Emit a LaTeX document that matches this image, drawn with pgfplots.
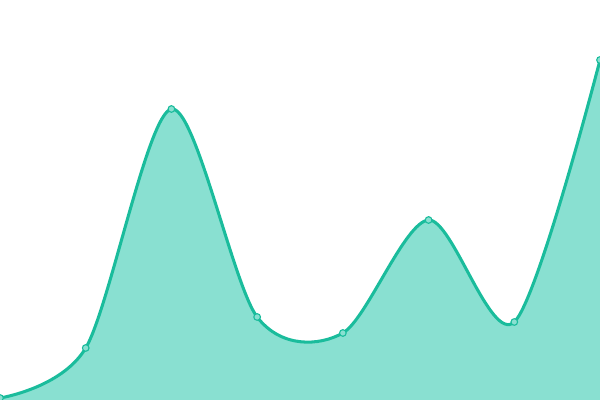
\documentclass[border=0pt]{standalone}
\usepackage{pgfplots}
\pgfplotsset{compat=1.18}
\definecolor{teal1}{HTML}{1ABC9C}
\definecolor{tealfill}{HTML}{89E0D1}
\begin{document}
\begin{tikzpicture}
\begin{axis}[
  scale only axis,
  width=6in, height=4in,
  xmin=0, xmax=7,
  ymin=0, ymax=400,
  hide axis,
  clip marker paths=true,
]
\addplot [draw=none, fill=tealfill, smooth, tension=0.5]
  coordinates {(0,2) (1,52) (2,291) (3,83) (4,67) (5,180) (6,78) (7,340)} \closedcycle;
\addplot [teal1, line width=2.2pt, smooth, tension=0.5,
  mark=*, mark size=2.4pt, mark options={fill=tealfill, draw=teal1, line width=0.8pt}]
  coordinates {(0,2) (1,52) (2,291) (3,83) (4,67) (5,180) (6,78) (7,340)};
\end{axis}
\pgfresetboundingbox
\path (current axis.south west) rectangle (current axis.north east);
\end{tikzpicture}
\end{document}
